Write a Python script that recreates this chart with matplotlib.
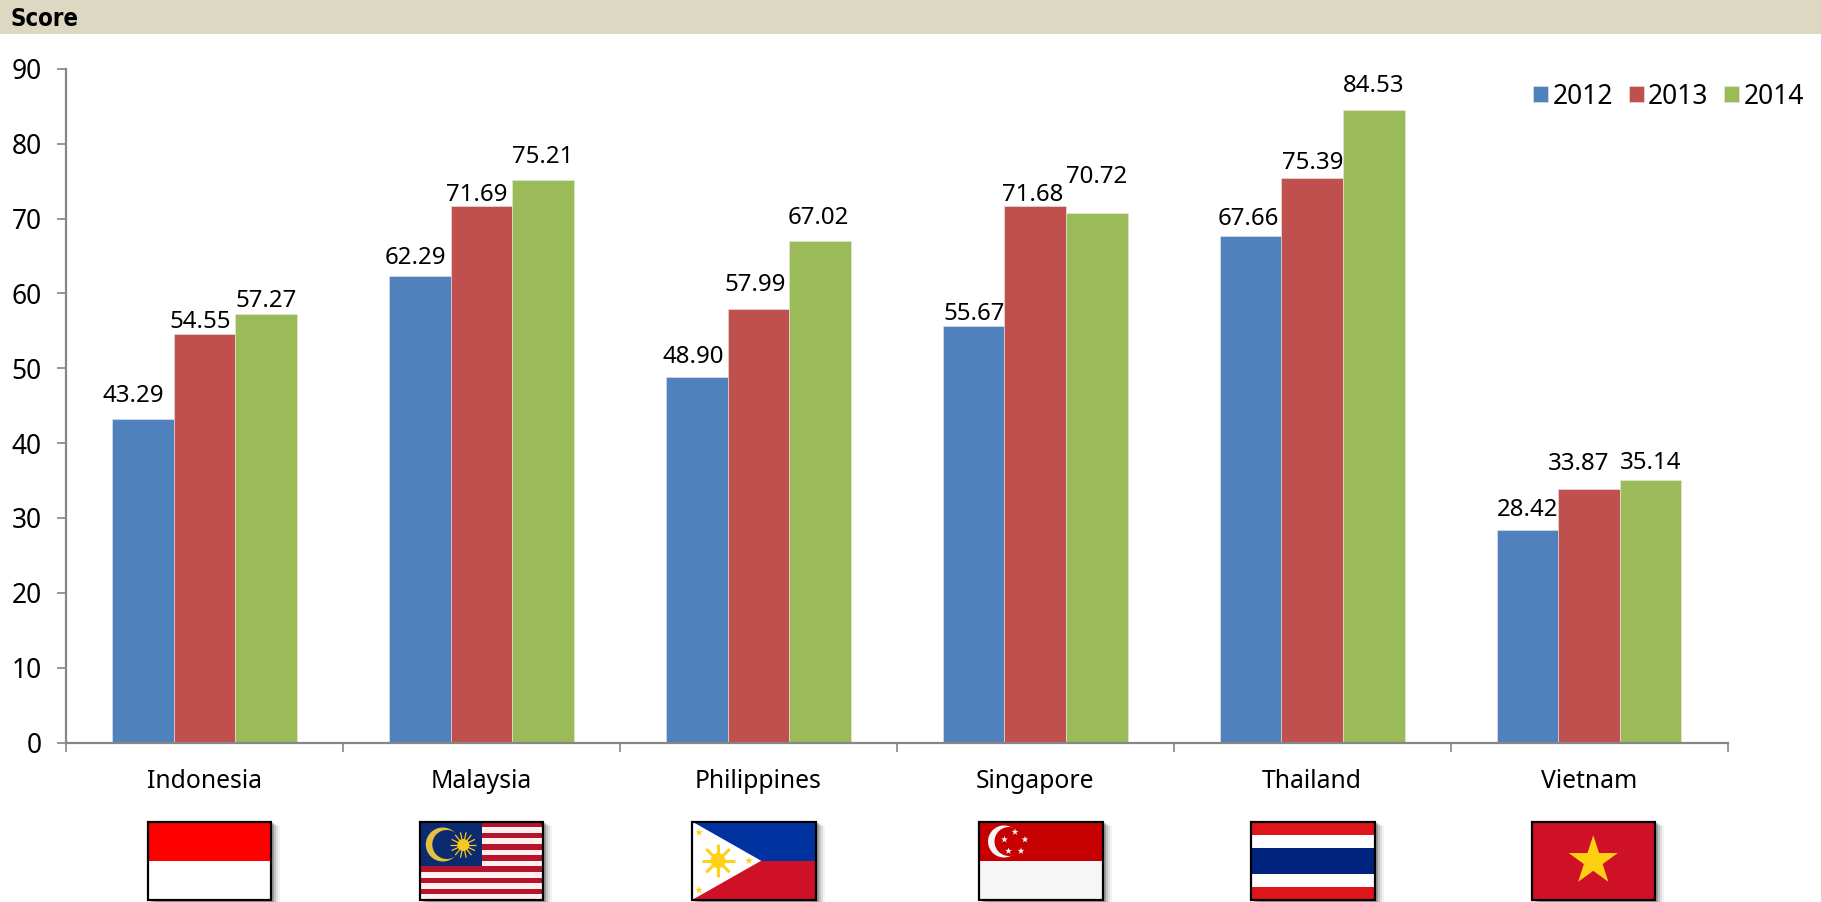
import numpy as np
import matplotlib
matplotlib.use("Agg")
import matplotlib.pyplot as plt
from matplotlib.patches import Rectangle, Circle, Polygon

countries = ["Indonesia", "Malaysia", "Philippines", "Singapore", "Thailand", "Vietnam"]
years = ["2012", "2013", "2014"]
score_2012 = [43.29, 62.29, 48.90, 55.67, 67.66, 28.42]
score_2013 = [54.55, 71.69, 57.99, 71.68, 75.39, 33.87]
score_2014 = [57.27, 75.21, 67.02, 70.72, 84.53, 35.14]
yticks = list(range(0, 100, 10))

# hand-placed label nudges (points)
PT = 0.836
label_gap = [[19.5, 15.5, 16.5, 10.5, 14.5, 17.5], [10.5, 9.5, 20.5, 9.5, 13.5, 21.5], [11.5, 19.5, 19.5, 31.5, 20.5, 14.5]]
label_dx = [[-8, -4, -3, 0, -2, 0], [-4, -4, -3, -2, 0, -9], [0, 0, -1, 0, 0, 0]]

plt.rcParams["font.family"] = ["Noto Sans", "DejaVu Sans"]
W, H = 1821, 902
fig = plt.figure(figsize=(W / 100, H / 100), dpi=100, facecolor="white")

# pixel-space overlay for header and flags
bg = fig.add_axes([0, 0, 1, 1], zorder=0)
bg.set_xlim(0, W); bg.set_ylim(H, 0); bg.axis("off")
bg.add_patch(Rectangle((0, 0), W, 33.5, fc="#DDD8C2", ec="none"))
bg.text(11, 18.5, "Score", fontsize=17.2, fontweight="bold", fontstretch="condensed",
        family="DejaVu Sans", va="center", ha="left", color="black")

L, R, T, B = 66, 1727.6, 69, 742.5
ax = fig.add_axes([L / W, (H - B) / H, (R - L) / W, (B - T) / H], zorder=2)
ax.patch.set_alpha(0)
colors = ["#4F81BD", "#C0504D", "#9BBB59"]
bw = 1 / 4.5
x = np.arange(len(countries)) + 0.5
for k, (vals, c, lab) in enumerate(zip([score_2012, score_2013, score_2014], colors, years)):
    xs = x + (k - 1) * bw
    ax.bar(xs, vals, bw, color=c, edgecolor="#E8E8E8", linewidth=0.4, label=lab, zorder=2)
    for xi, v, g, d in zip(xs, vals, label_gap[k], label_dx[k]):
        ax.annotate(f"{v:.2f}", (xi, v), xytext=(d * PT, g * PT), textcoords="offset points",
                    ha="center", va="center", fontsize=17.3, color="black")
ax.set_xlim(0, 6); ax.set_ylim(0, 90)
ax.set_yticks(yticks)
ax.set_xticks(np.arange(7))
ax.set_xticks(x, minor=True)
ax.set_xticklabels([])
ax.set_xticklabels(countries, minor=True)
for s in ("top", "right"):
    ax.spines[s].set_visible(False)
for s in ("left", "bottom"):
    ax.spines[s].set_color("#868686"); ax.spines[s].set_linewidth(1.6)
ax.tick_params(axis="y", length=6.5, width=1.2, color="#868686", labelsize=19, pad=11)
ax.tick_params(axis="x", which="major", length=6.8, width=1.2, color="#868686")
ax.tick_params(axis="x", which="minor", length=0, labelsize=17.8, pad=18.8)
leg = ax.legend(loc="upper right", frameon=False, ncol=3, fontsize=19,
                handlelength=0.57, handleheight=0.57, handletextpad=0.16, columnspacing=0.6,
                borderpad=0, borderaxespad=0)
leg.set_bbox_to_anchor((1804 / W, (H - 82.5) / H), transform=fig.transFigure)


def star(cx, cy, r, color, z=5):
    pts = []
    for i in range(10):
        a = -np.pi / 2 + i * np.pi / 5
        rr = r if i % 2 == 0 else r * 0.382
        pts.append((cx + rr * np.cos(a), cy + rr * np.sin(a)))
    bg.add_patch(Polygon(pts, fc=color, ec="none", zorder=z))


def sun(cx, cy, r, rl, n, color, lw=1.0, z=5):
    for i in range(n):
        a = i * 2 * np.pi / n
        bg.plot([cx, cx + rl * np.cos(a)], [cy, cy + rl * np.sin(a)], color=color, lw=lw,
                solid_capstyle="butt", zorder=z)
    bg.add_patch(Circle((cx, cy), r, fc=color, ec="none", zorder=z + 0.1))


def rect(x0, y0, w, h, c, z=3):
    bg.add_patch(Rectangle((x0, y0), w, h, fc=c, ec="none", zorder=z))


def frame(x0, y0, w, h):
    for d, a in ((9, 0.05), (7, 0.08), (5, 0.12), (3, 0.2)):
        rect(x0 + d, y0 + d * 0.5, w, h, (0, 0, 0, a), z=1)
    rect(x0, y0, w, h, "white", z=2)
    bg.add_patch(Rectangle((x0, y0), w, h, fc="none", ec="black", lw=1.6, zorder=8))


FY, FH = 821.5, 78.5
FW = 123.5
flag_x = [147.5, 419.8, 692, 979, 1251, 1531.5]

# Indonesia
fx = flag_x[0]; frame(fx, FY, FW, FH)
rect(fx, FY, FW, FH / 2, "#FF0000")
rect(fx, FY + FH / 2, FW, FH / 2, "#FFFFFF")

# Malaysia
fx = flag_x[1]; frame(fx, FY, FW, FH)
for i in range(14):
    rect(fx, FY + i * FH / 14, FW, FH / 14 + 0.2, "#B5142C" if i % 2 == 0 else "#FFF0F0")
rect(fx, FY, FW / 2, FH * 8 / 14, "#0B2A6F", z=4)
bg.add_patch(Circle((fx + 23, FY + 23), 17, fc="#E6C040", ec="none", zorder=5))
bg.add_patch(Circle((fx + 27, FY + 23), 14.5, fc="#0B2A6F", ec="none", zorder=5.2))
sun(fx + 43.5, FY + 23.5, 6, 13, 14, "#F7C71C", lw=0.9, z=5.3)

# Philippines
fx = flag_x[2]; frame(fx, FY, FW, FH)
rect(fx, FY, FW, FH / 2, "#0033A0")
rect(fx, FY + FH / 2, FW, FH / 2, "#CE1126")
bg.add_patch(Polygon([(fx, FY), (fx + FW * 0.56, FY + FH / 2), (fx, FY + FH)], fc="white", ec="none", zorder=4))
sun(fx + 26, FY + FH / 2, 7.5, 16.5, 8, "#FCD116", lw=2.2)
star(fx + 7, FY + 11, 4, "#FCD116")
star(fx + 57, FY + FH / 2, 4, "#FCD116")
star(fx + 7, FY + FH - 10, 4, "#FCD116")

# Singapore
fx = flag_x[3]; frame(fx, FY, FW, FH)
rect(fx, FY, FW, FH / 2, "#C60000")
rect(fx, FY + FH / 2, FW, FH / 2, "#F6F6F6")
bg.add_patch(Circle((fx + 25, FY + 20), 16, fc="#F6F6F6", ec="none", zorder=5))
bg.add_patch(Circle((fx + 30, FY + 20), 14.5, fc="#C60000", ec="none", zorder=5.2))
for sx, sy in ((36, 10.5), (46, 18), (42, 29.5), (29.5, 29.5), (25.5, 18)):
    star(fx + sx, FY + sy, 3.6, "#F6F6F6", z=6)

# Thailand
fx = flag_x[4]; frame(fx, FY, FW, FH)
rect(fx, FY, FW, FH, "#E0141C")
rect(fx, FY + FH / 6, FW, FH * 4 / 6, "#FFFFFF")
rect(fx, FY + FH / 3, FW, FH / 3, "#00247D")

# Vietnam
fx = flag_x[5]; frame(fx, FY, FW, FH)
rect(fx, FY, FW, FH, "#CE1126")
star(fx + FW / 2, FY + 39.5, 25.8, "#FFD012")

fig.savefig("out.png", dpi=100, facecolor="white")
